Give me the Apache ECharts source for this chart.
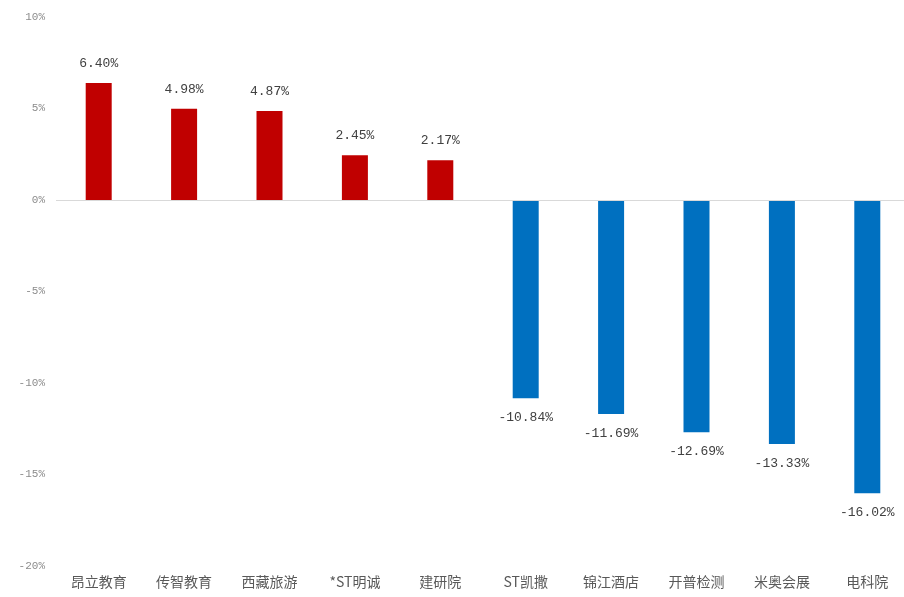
<!DOCTYPE html>
<html><head><meta charset="utf-8">
<script src="https://cdn.jsdelivr.net/npm/echarts@6/dist/echarts.min.js"></script>
<style>html,body{margin:0;padding:0;background:#fff;overflow:hidden}#c{width:912px;height:597px}</style>
</head><body><div id="c"></div>
<script>
var categories = ['昂立教育','传智教育','西藏旅游','*ST明诚','建研院','ST凯撒','锦江酒店','开普检测','米奥会展','电科院'];
var values = [6.40, 4.98, 4.87, 2.45, 2.17, -10.84, -11.69, -12.69, -13.33, -16.02];
var yTicks = { min: -20, max: 10, interval: 5 };
var posColor = '#C00000', negColor = '#0070C0';

var chart = echarts.init(document.getElementById('c'), null, {renderer:'canvas'});
chart.setOption({
  animation: false,
  grid: { left: 56, right: 2, top: 17, bottom: 31, containLabel: false },
  xAxis: {
    type: 'category', data: categories,
    axisLine: { show: false, onZero: false },
    axisTick: { show: false },
    axisLabel: { color: '#595959', fontSize: 14, margin: 9, fontFamily: 'Noto Sans CJK SC', interval: 0 }
  },
  yAxis: {
    type: 'value', min: yTicks.min, max: yTicks.max, interval: yTicks.interval,
    splitLine: { show: false },
    axisLine: { show: false }, axisTick: { show: false },
    axisLabel: { color: '#8c8c8c', fontSize: 11, margin: 11, fontFamily: 'Liberation Mono', formatter: function(v){ return v + '%'; } }
  },
  series: [{
    type: 'bar', barWidth: 26,
    data: values.map(function(v){
      return { value: v, itemStyle: { color: v >= 0 ? posColor : negColor },
        label: { position: v >= 0 ? 'top' : 'bottom' } };
    }),
    label: {
      show: true, distance: 13, color: '#404040', fontSize: 13, fontFamily: 'Liberation Mono',
      formatter: function(p){ return p.value.toFixed(2) + '%'; }
    },
    markLine: {
      silent: true, symbol: 'none', label: { show: false },
      lineStyle: { color: '#d9d9d9', type: 'solid', width: 1 },
      data: [{ yAxis: 0 }]
    }
  }]
});
</script></body></html>
